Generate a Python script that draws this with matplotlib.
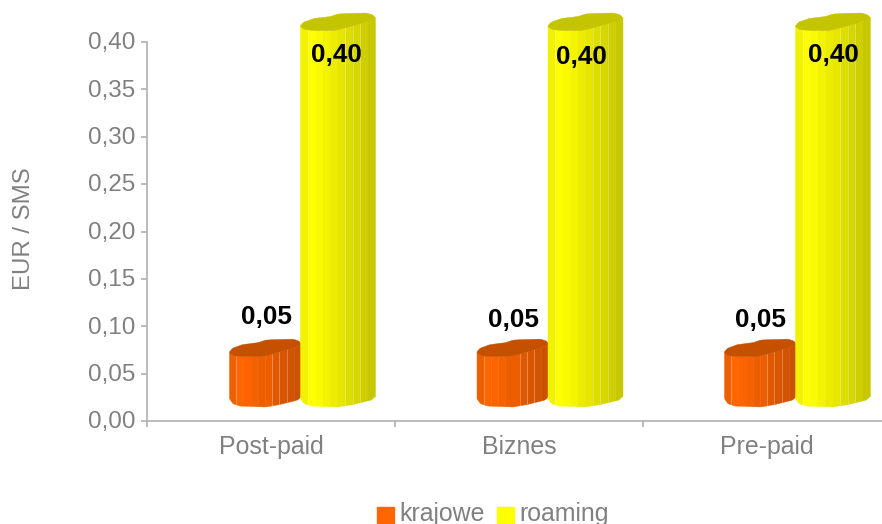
import numpy as np
import matplotlib
matplotlib.use('Agg')
import matplotlib.pyplot as plt
from matplotlib.transforms import ScaledTranslation

plt.rcParams['font.family'] = ['Liberation Sans', 'DejaVu Sans']

# Data
categories = ['Post-paid', 'Biznes', 'Pre-paid']
krajowe = [0.05, 0.05, 0.05]
roaming = [0.40, 0.40, 0.40]
y_ticks = [0.00, 0.05, 0.10, 0.15, 0.20, 0.25, 0.30, 0.35, 0.40]

GREY = '#808080'
AXIS = '#b0b0b0'
ORANGE_SHADES = ['#ee5f00', '#ff6600', '#fb6400', '#f46100', '#ec5e00', '#ec5e00',
                 '#e05900', '#d85600', '#d25300', '#cc5100']
YELLOW_SHADES = ['#f2f200', '#ffff00', '#fbfb00', '#f4f400', '#ecec00', '#e6e600',
                 '#dddd00', '#d6d600', '#cfcf00', '#c8c800']

W, H = 882, 524
X0, X1 = 147, 891
Y0, Y1 = 421, 42
fig = plt.figure(figsize=(W / 100, H / 100), dpi=100)
ax = fig.add_axes([X0 / W, 1 - Y0 / H, (X1 - X0) / W, (Y0 - Y1) / H])
ax.set_xlim(0, 3)
ax.set_ylim(0, 0.40)
PX = 3 / (X1 - X0)
PY = 0.40 / (Y0 - Y1)

# outline of the fake 3D column, in pixels, u goes 0..1 across the column
u_front = [0, .05, .18, .45, .62, .9, 1]
d_front = [3, 0, -1, -1, 2, 8, 11]
u_back = [0, .03, .18, .40, .50, .62, .88, .97, 1]
d_back = [3, 7, 11, 13, 15.5, 16, 16.5, 14.5, 11]
u_bot = [0, .04, .14, .5, .7, .95, 1]
d_bot = [9, 3.5, 1, 0, 2.5, 7, 11]


def profile(u, us, ds):
    # rounded version of the outline
    g = np.linspace(0, 1, 201)
    v = np.interp(g, us, ds)
    k = np.ones(9) / 9
    v = np.convolve(np.pad(v, 4, mode='edge'), k, mode='valid')
    return np.interp(u, g, v)


def column(left, width, value, lift, shades, top_colour, z):
    # left/width in category units, front top is lifted off the value by lift px
    top = value + lift * PY
    bottom = (Y0 - 406.5) * PY
    n = len(shades)
    edges = np.linspace(0, 1, n + 1)
    for i, c in enumerate(shades):
        u = np.linspace(edges[i], edges[i + 1], 8)
        ax.fill_between(left + u * width,
                        bottom + profile(u, u_bot, d_bot) * PY,
                        top + profile(u, u_front, d_front) * PY,
                        color=c, lw=0.3, zorder=z, clip_on=False)
    # pale seams between some facets
    for e in [edges[1], edges[6], edges[7], edges[8]]:
        ax.plot([left + e * width] * 2,
                [bottom + profile(e, u_bot, d_bot) * PY, top + profile(e, u_front, d_front) * PY],
                color='white', alpha=0.3, lw=0.6, zorder=z + 0.05, clip_on=False)
    u = np.linspace(0, 1, 60)
    ax.fill_between(left + u * width,
                    top + profile(u, u_front, d_front) * PY,
                    top + profile(u, u_back, d_back) * PY,
                    color=top_colour, lw=0.3, zorder=z + 0.1, clip_on=False)


# small offsets of the value labels in px
nudge_k = [(0, 0), (0, -3), (-1, -3)]
nudge_r = [(0, 0), (-2, -2), (2, 0)]

for i, cat in enumerate(categories):
    left = i + (229 - X0 - i * 0.5) * PX
    w1 = 72 * PX
    w2 = 75 * PX
    column(left, w1, krajowe[i], 18.5, ORANGE_SHADES, '#c45000', 3)
    column(left + w1 - 1 * PX, w2, roaming[i], 13, YELLOW_SHADES, '#c4c400', 4)
    ax.text(left + (37 + nudge_k[i][0]) * PX, krajowe[i] + (57 + nudge_k[i][1]) * PY,
            f'{krajowe[i]:.2f}'.replace('.', ','),
            ha='center', va='center', fontsize=18.8, fontweight='bold', color='black', zorder=6)
    ax.text(left + w1 + (35 + nudge_r[i][0]) * PX, roaming[i] + (-13 + nudge_r[i][1]) * PY,
            f'{roaming[i]:.2f}'.replace('.', ','),
            ha='center', va='center', fontsize=18.8, fontweight='bold', color='black', zorder=6)

for s in ['top', 'right']:
    ax.spines[s].set_visible(False)
for s in ['left', 'bottom']:
    ax.spines[s].set_color(AXIS)
    ax.spines[s].set_linewidth(1.2)

ax.set_yticks(y_ticks)
ax.set_yticklabels([f'{v:.2f}'.replace('.', ',') for v in y_ticks])
ax.set_xticks([0, 1, 2, 3])
ax.set_xticklabels([])
ax.tick_params(axis='y', colors=AXIS, labelcolor=GREY, labelsize=17.5, length=4.5, width=1.2, pad=4)
ax.tick_params(axis='x', colors=AXIS, length=4.5, width=1.2, direction='out')
for lab in ax.get_yticklabels():
    lab.set_transform(lab.get_transform() + ScaledTranslation(0, 1.2 / 100, fig.dpi_scale_trans))
for i, cat in enumerate(categories):
    ax.text(i + 0.5, -26 * PY, cat, ha='center', va='center', fontsize=17.9, color=GREY, clip_on=False)

fig.text(24 / W, 1 - 229 / H, 'EUR / SMS', rotation=90, ha='center', va='center', fontsize=17.3, color=GREY)

# legend
fig.patches.append(plt.Rectangle((377 / W, 1 - 523 / H), 17 / W, 16 / H, color='#ff6600',
                                 transform=fig.transFigure))
fig.text(399 / W, 1 - 514 / H, 'krajowe', ha='left', va='center', fontsize=17.9, color=GREY)
fig.patches.append(plt.Rectangle((497 / W, 1 - 523 / H), 17 / W, 16 / H, color='#ffff00',
                                 transform=fig.transFigure))
fig.text(519 / W, 1 - 514 / H, 'roaming', ha='left', va='center', fontsize=17.9, color=GREY)

fig.savefig('out.png', dpi=100)
